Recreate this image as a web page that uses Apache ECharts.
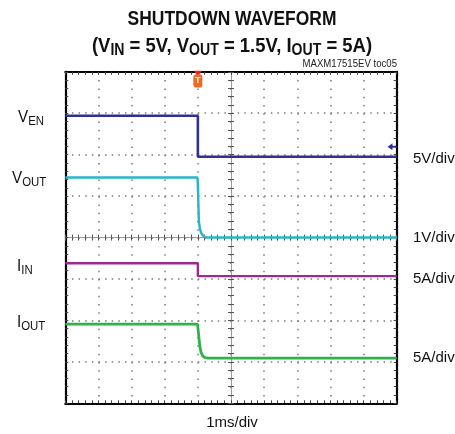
<!DOCTYPE html>
<html>
<head>
<meta charset="utf-8">
<script src="https://cdn.jsdelivr.net/npm/echarts@6/dist/echarts.min.js"></script>
<style>
  html, body { margin: 0; padding: 0; background: #fff; }
  #chart { width: 455px; height: 434px; }
</style>
</head>
<body>
<div id="chart"></div>
<script>
  // scope screen: 10 x 8 divisions, trace levels in divisions from the bottom edge
  var venTime = [0, 4.0, 4.0, 10]
  var venLevel = [6.94, 6.94, 5.95, 5.95]
  var voutTime = [0, 3.99, 4.01, 4.03, 4.06, 4.1, 4.15, 4.22, 4.3, 10]
  var voutLevel = [5.45, 5.45, 5.0, 4.4, 4.22, 4.11, 4.05, 4.01, 4.0, 4.0]
  var iinTime = [0, 4.0, 4.0, 10]
  var iinLevel = [3.38, 3.38, 3.07, 3.07]
  var ioutTime = [0, 3.99, 4.02, 4.06, 4.1, 4.15, 4.22, 4.32, 10]
  var ioutLevel = [1.91, 1.91, 1.68, 1.37, 1.22, 1.14, 1.1, 1.09, 1.09]
  var venGround = [9.86, 6.19]
  var trigger = 4.0

  var font = "'Liberation Sans', Arial, sans-serif"

  function pairs (t, v) {
    return t.map(function (x, i) { return [x, v[i]] })
  }

  // one axis of the scope frame (border or centre cross-hair)
  function frameAxis (dim, pos, offset, inside, isBorder, split) {
    var ax = {
      type: 'value',
      min: 0,
      max: dim === 'x' ? 10 : 8,
      interval: 1,
      position: pos,
      offset: offset,
      axisLine: {
        show: true,
        onZero: false,
        lineStyle: isBorder ? { color: '#000', width: 2.2 } : { color: '#9a9a9a', width: 1 }
      },
      axisTick: { show: true, inside: inside, length: 3, lineStyle: { color: isBorder ? '#444' : '#555', width: 1 } },
      minorTick: { show: true, splitNumber: 5, length: 3, lineStyle: { color: isBorder ? '#444' : '#555', width: 1 } },
      axisLabel: { show: false },
      splitLine: { show: false }
    }
    if (split) {
      ax.splitLine = {
        show: true,
        lineStyle: { color: '#7a7a7a', width: 1.5, type: dim === 'x' ? [1.5, 6.79] : [1.5, 5.13] }
      }
    }
    return ax
  }

  function label (x, y, main, sub) {
    return {
      type: 'text', x: x, y: y, scaleX: 0.95,
      style: {
        text: '{m|' + main + '}{s|' + sub + '}', textVerticalAlign: 'middle',
        rich: {
          m: { fontSize: 16, fontFamily: font, fill: '#111' },
          s: { fontSize: 12, fontFamily: font, fill: '#111', padding: [8, 0, 0, 0] }
        }
      }
    }
  }

  function scale (y, text) {
    return { type: 'text', x: 413, y: y, style: { text: text, fill: '#111', font: '15px ' + font, textVerticalAlign: 'middle' } }
  }

  var chart = echarts.init(document.getElementById('chart'))

  var option = {
    animation: false,
    backgroundColor: '#fff',
    grid: { left: 65.3, top: 71.8, width: 331.4, height: 331.5, show: false },
    xAxis: [
      frameAxis('x', 'bottom', 0, true, true, true),
      frameAxis('x', 'top', 0, true, true, false),
      frameAxis('x', 'bottom', -165.75, true, false, false),
      frameAxis('x', 'bottom', -165.75, false, false, false)
    ],
    yAxis: [
      frameAxis('y', 'left', 0, true, true, true),
      frameAxis('y', 'right', 0, true, true, false),
      frameAxis('y', 'left', -165.7, true, false, false),
      frameAxis('y', 'left', -165.7, false, false, false)
    ],
    series: [
      {
        name: 'VEN',
        type: 'line',
        data: pairs(venTime, venLevel),
        showSymbol: false,
        lineStyle: { color: '#2e3192', width: 2.6 },
        z: 5,
        markPoint: {
          silent: true,
          data: [
            {
              coord: venGround,
              symbol: 'path://M0,5 L6,0 L6,3.5 L11,3.5 L11,6.5 L6,6.5 L6,10 Z',
              symbolSize: [9, 7],
              itemStyle: { color: '#2e3192' },
              label: { show: false }
            },
            {
              coord: [trigger, 8],
              symbol: 'triangle',
              symbolRotate: 180,
              symbolSize: [8, 6],
              symbolOffset: [0, 2],
              itemStyle: { color: '#e8231c' },
              label: { show: false }
            },
            {
              coord: [trigger, 7.78],
              symbol: 'roundRect',
              symbolSize: [9, 13],
              itemStyle: { color: '#f26a21' },
              label: { show: true, formatter: 'T', color: '#fff', fontSize: 9, fontWeight: 'bold', fontFamily: font }
            }
          ]
        }
      },
      {
        name: 'VOUT',
        type: 'line',
        data: pairs(voutTime, voutLevel),
        showSymbol: false,
        lineStyle: { color: '#27b5c8', width: 2.4 },
        z: 4
      },
      {
        name: 'IIN',
        type: 'line',
        data: pairs(iinTime, iinLevel),
        showSymbol: false,
        lineStyle: { color: '#9b2a8f', width: 2.4 },
        z: 4
      },
      {
        name: 'IOUT',
        type: 'line',
        data: pairs(ioutTime, ioutLevel),
        showSymbol: false,
        lineStyle: { color: '#2fb24b', width: 2.8 },
        z: 4
      }
    ],
    graphic: [
      {
        type: 'text', x: 232, y: 19, scaleX: 0.83,
        style: { text: 'SHUTDOWN WAVEFORM', fill: '#111', font: 'bold 21px ' + font, textAlign: 'center', textVerticalAlign: 'middle' }
      },
      {
        type: 'text', x: 232, y: 46, scaleX: 0.88,
        style: {
          text: '{m|(V}{s|IN}{m| = 5V, V}{s|OUT}{m| = 1.5V, I}{s|OUT}{m| = 5A)}',
          textAlign: 'center', textVerticalAlign: 'middle',
          rich: {
            m: { fontSize: 21, fontWeight: 'bold', fontFamily: font, fill: '#111' },
            s: { fontSize: 16, fontWeight: 'bold', fontFamily: font, fill: '#111', padding: [9, 0, 0, 0] }
          }
        }
      },
      {
        type: 'text', x: 397, y: 64, scaleX: 0.96,
        style: { text: 'MAXM17515EV toc05', fill: '#222', font: '10px ' + font, textAlign: 'right', textVerticalAlign: 'middle' }
      },
      label(18, 118, 'V', 'EN'),
      label(12, 179, 'V', 'OUT'),
      label(17, 267, 'I', 'IN'),
      label(17, 323, 'I', 'OUT'),
      scale(159, '5V/div'),
      scale(238, '1V/div'),
      scale(279, '5A/div'),
      scale(358, '5A/div'),
      { type: 'text', x: 232, y: 423, style: { text: '1ms/div', fill: '#111', font: '15px ' + font, textAlign: 'center', textVerticalAlign: 'middle' } }
    ]
  }

  chart.setOption(option)
  window.addEventListener('resize', function () {
    chart.resize()
  })
</script>
</body>
</html>
